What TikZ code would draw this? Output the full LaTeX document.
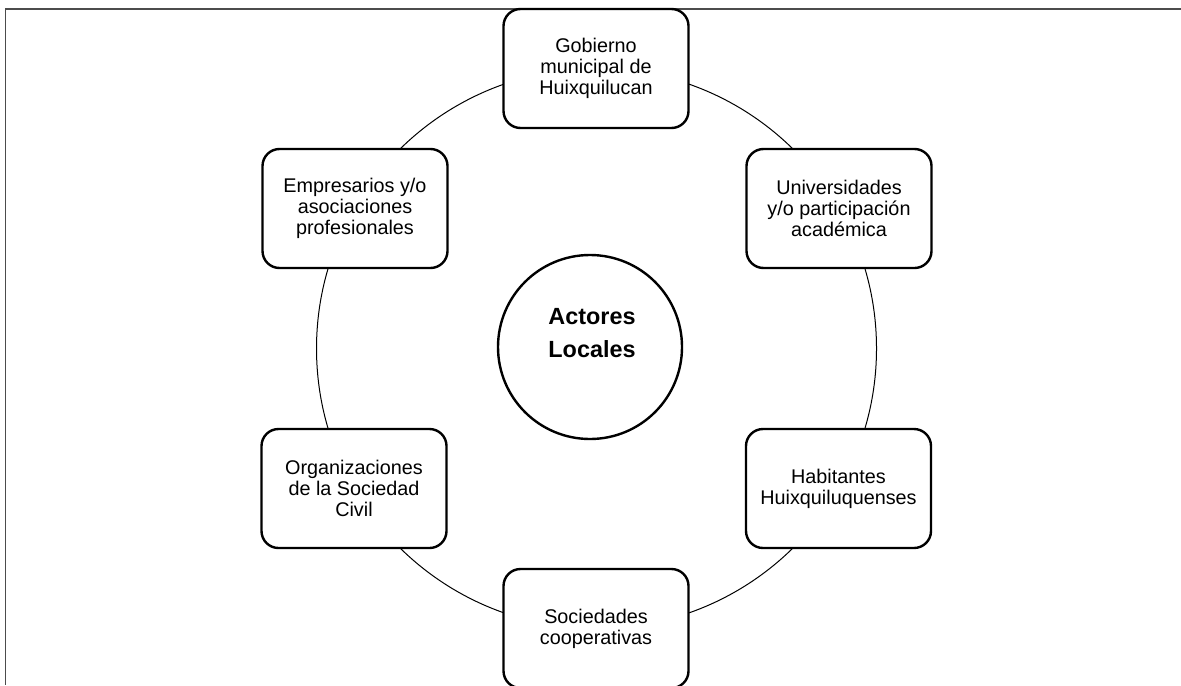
\documentclass[tikz,border=0pt]{standalone}
\usepackage{fontspec}
\setmainfont{Liberation Sans}
\begin{document}
\begin{tikzpicture}[x=0.5pt,y=-0.5pt,
  actor/.style={draw=black, fill=white, line width=1.2pt, rounded corners=8.5pt,
    minimum width=92.5pt, minimum height=59.5pt, align=center, inner sep=2pt,
    font=\fontsize{9.9}{10.6}\selectfont},
  ring/.style={draw=black, line width=0.5pt},
  frameline/.style={draw=black!70, line width=0.9pt}
]
\useasboundingbox (0,0) rectangle (1181,685);
\coordinate (tl) at (5.5,8.7);
\coordinate (tr) at (1181,8.7);
\coordinate (bl) at (5.5,685);
\draw[frameline] (tr) -- (tl) -- (bl);
\coordinate (hub) at (596.5,348.5);
\draw[ring] (hub) circle[radius=140pt];
\node[actor] (gob) at (596,68.5) {Gobierno\\municipal de\\Huixquilucan};
\node[actor] (emp) at (355,208.5) {Empresarios y/o\\asociaciones\\profesionales};
\node[actor] (uni) at (839,208.5) {Universidades\\y/o participación\\académica};
\node[actor] (org) at (354,488.5) {Organizaciones\\de la Sociedad\\Civil};
\node[actor] (hab) at (838.5,488.5) {Habitantes\\Huixquiluquenses};
\node[actor] (soc) at (596,628.5) {Sociedades\\cooperativas};
\node[circle, draw=black, line width=1.2pt, minimum size=92pt, inner sep=0pt] (ctr) at (590,347) {};
\node[align=center, font=\bfseries\fontsize{11.7}{16.3}\selectfont] (ctrtext) at (592,333) {Actores\\Locales};
\end{tikzpicture}
\end{document}
